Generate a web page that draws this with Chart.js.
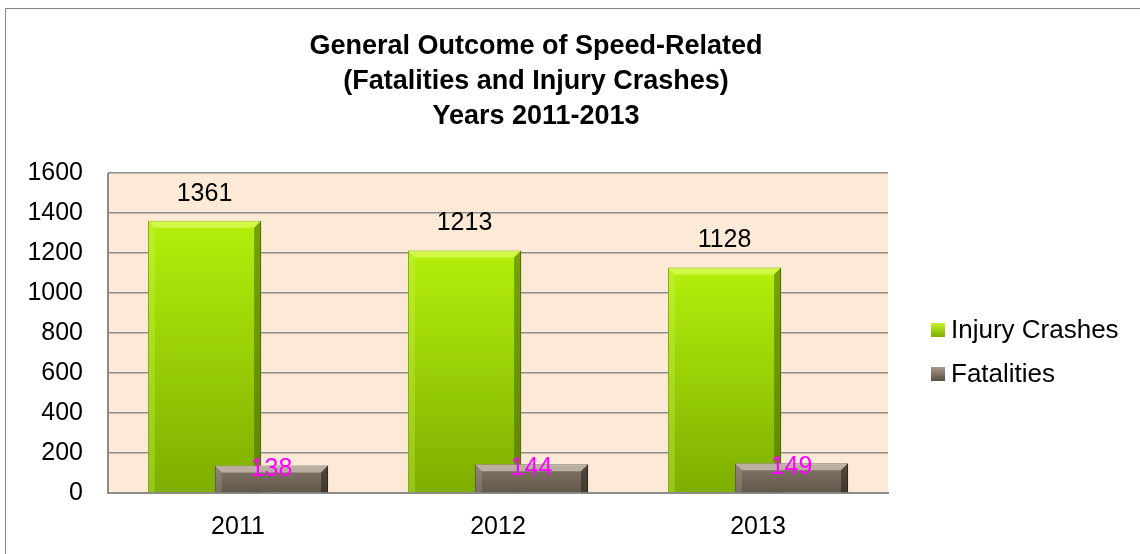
<!DOCTYPE html>
<html>
<head>
<meta charset="utf-8">
<script src="https://cdn.jsdelivr.net/npm/chart.js@4/dist/chart.umd.min.js"></script>
<style>
  html, body { margin: 0; padding: 0; background: #fff; overflow: hidden; }
  #wrap { position: relative; width: 1140px; height: 554px; }
  #frame { position: absolute; left: 5px; top: 8px; width: 1200px; height: 600px; border: 1px solid #868686; box-sizing: border-box; }
  canvas { position: absolute; left: 0; top: 0; }
</style>
</head>
<body>
<div id="wrap">
  <div id="frame"></div>
  <canvas id="chart" width="1140" height="554"></canvas>
</div>
<script>
const years = ["2011", "2012", "2013"];
const injuryCrashes = [1361, 1213, 1128];
const fatalities = [138, 144, 149];
const titleLines = ["General Outcome of Speed-Related", "(Fatalities and Injury Crashes)", "Years 2011-2013"];
const seriesNames = ["Injury Crashes", "Fatalities"];

const FONT = "Arial, 'Liberation Sans', sans-serif";

// per-bar vertical gradient
function barGradient(topColor, bottomColor) {
    return function (ctx) {
        const chart = ctx.chart;
        const y = chart.scales.y;
        if (!chart.chartArea || !y || ctx.raw == null) return bottomColor;
        const top = y.getPixelForValue(ctx.raw);
        const g = chart.ctx.createLinearGradient(0, top, 0, y.getPixelForValue(0));
        g.addColorStop(0, topColor);
        g.addColorStop(1, bottomColor);
        return g;
    };
}

const bevels = [
    { top: "rgba(235,255,120,0.55)", left: "rgba(210,250,90,0.3)", right: "rgba(70,100,0,0.55)" },
    { top: "rgba(225,215,200,0.6)", left: "rgba(180,170,155,0.3)", right: "rgba(40,32,25,0.55)" }
];

function drawBevel(c, bar, bv) {
    const b = 7;
    const l = bar.x - bar.width / 2, r = bar.x + bar.width / 2;
    const t = bar.y, btm = bar.base;
    const poly = (pts, col) => {
        c.beginPath();
        c.moveTo(pts[0][0], pts[0][1]);
        for (let i = 1; i < pts.length; i++) c.lineTo(pts[i][0], pts[i][1]);
        c.closePath();
        c.fillStyle = col;
        c.fill();
    };
    poly([[l, t], [r, t], [r - b, t + b], [l + b, t + b]], bv.top);
    poly([[l, t], [l + b, t + b], [l + b, btm], [l, btm]], bv.left);
    poly([[r, t], [r, btm], [r - b, btm], [r - b, t + b]], bv.right);
}

// draw datasets in index order so the right-hand (Fatalities) bar sits on top
const orderPlugin = {
    id: "drawOrder",
    beforeDatasetsDraw(chart) {
        const c = chart.ctx;
        for (let i = 0; i < chart.data.datasets.length; i++) {
            const meta = chart.getDatasetMeta(i);
            c.save();
            c.shadowColor = "rgba(0,0,0,0.25)";
            c.shadowOffsetX = 2;
            c.shadowOffsetY = 2;
            c.shadowBlur = 3;
            meta.controller.draw();
            c.restore();
            c.save();
            meta.data.forEach(bar => drawBevel(c, bar, bevels[i]));
            c.restore();
        }
        return false;
    }
};

const labelPlugin = {
    id: "valueLabels",
    afterDraw(chart) {
        const c = chart.ctx;
        c.save();
        c.font = "25px " + FONT;
        c.textAlign = "center";
        c.textBaseline = "middle";
        chart.getDatasetMeta(0).data.forEach((bar, i) => {
            c.fillStyle = "#000";
            c.fillText(String(injuryCrashes[i]), bar.x, bar.y - 27);
        });
        chart.getDatasetMeta(1).data.forEach((bar, i) => {
            c.fillStyle = "#FF00FF";
            c.fillText(String(fatalities[i]), bar.x, bar.y + 4);
        });
        c.restore();
    }
};

const decorPlugin = {
    id: "decor",
    beforeDraw(chart) {
        const a = chart.chartArea;
        const c = chart.ctx;
        c.save();
        c.fillStyle = "#FDEAD6";
        c.fillRect(a.left, a.top, a.right - a.left, a.bottom - a.top);
        c.restore();
    },
    afterDraw(chart) {
        const c = chart.ctx;
        const a = chart.chartArea;
        c.save();
        // plot area left edge
        c.strokeStyle = "#8C8C8C";
        c.lineWidth = 2;
        c.beginPath();
        c.moveTo(a.left, a.top);
        c.lineTo(a.left, a.bottom);
        c.stroke();
        // title
        c.font = "bold 27px " + FONT;
        c.fillStyle = "#000";
        c.textAlign = "center";
        c.textBaseline = "middle";
        titleLines.forEach((t, i) => c.fillText(t, 536, 47 + i * 35));
        // legend
        const cols = [["#C4F42A", "#7DAE00"], ["#A89A8A", "#5A4E42"]];
        c.font = "26px " + FONT;
        c.textAlign = "left";
        seriesNames.forEach((name, i) => {
            const y = 330 + i * 44;
            const g = c.createLinearGradient(0, y - 7, 0, y + 7);
            g.addColorStop(0, cols[i][0]);
            g.addColorStop(1, cols[i][1]);
            c.fillStyle = g;
            c.fillRect(931, y - 7, 14, 14);
            c.fillStyle = "#000";
            c.fillText(name, 951, y + 1);
        });
        c.restore();
    }
};

new Chart(document.getElementById("chart"), {
    type: "bar",
    data: {
        labels: years,
        datasets: [
            {
                label: seriesNames[0],
                data: injuryCrashes,
                backgroundColor: barGradient("#B4EF0C", "#7EAE00"),
                borderColor: "#5E8200",
                borderWidth: 1,
                categoryPercentage: 0.515,
                barPercentage: 1.69
            },
            {
                label: seriesNames[1],
                data: fatalities,
                backgroundColor: barGradient("#85786A", "#62564A"),
                borderColor: "#3A3028",
                borderWidth: 1,
                categoryPercentage: 0.515,
                barPercentage: 1.69
            }
        ]
    },
    options: {
        responsive: false,
        animation: false,
        layout: { padding: { top: 173, right: 252, left: 0, bottom: 0 } },
        plugins: {
            legend: { display: false },
            title: { display: false },
            tooltip: { enabled: false }
        },
        scales: {
            x: {
                grid: { display: false, drawTicks: false },
                border: { color: "#8C8C8C", width: 2 },
                ticks: { color: "#000", font: { size: 25, family: FONT }, padding: 19 },
                afterFit: s => { s.height = 61; }
            },
            y: {
                min: 0,
                max: 1600,
                grid: { color: "#8C8C8C", lineWidth: 1.5, drawTicks: false },
                border: { display: false },
                ticks: {
                    stepSize: 200,
                    color: "#000",
                    font: { size: 25, family: FONT },
                    padding: 25,
                    callback: v => String(v)
                },
                afterFit: s => { s.width = 108; }
            }
        }
    },
    plugins: [decorPlugin, orderPlugin, labelPlugin]
});
</script>
</body>
</html>
